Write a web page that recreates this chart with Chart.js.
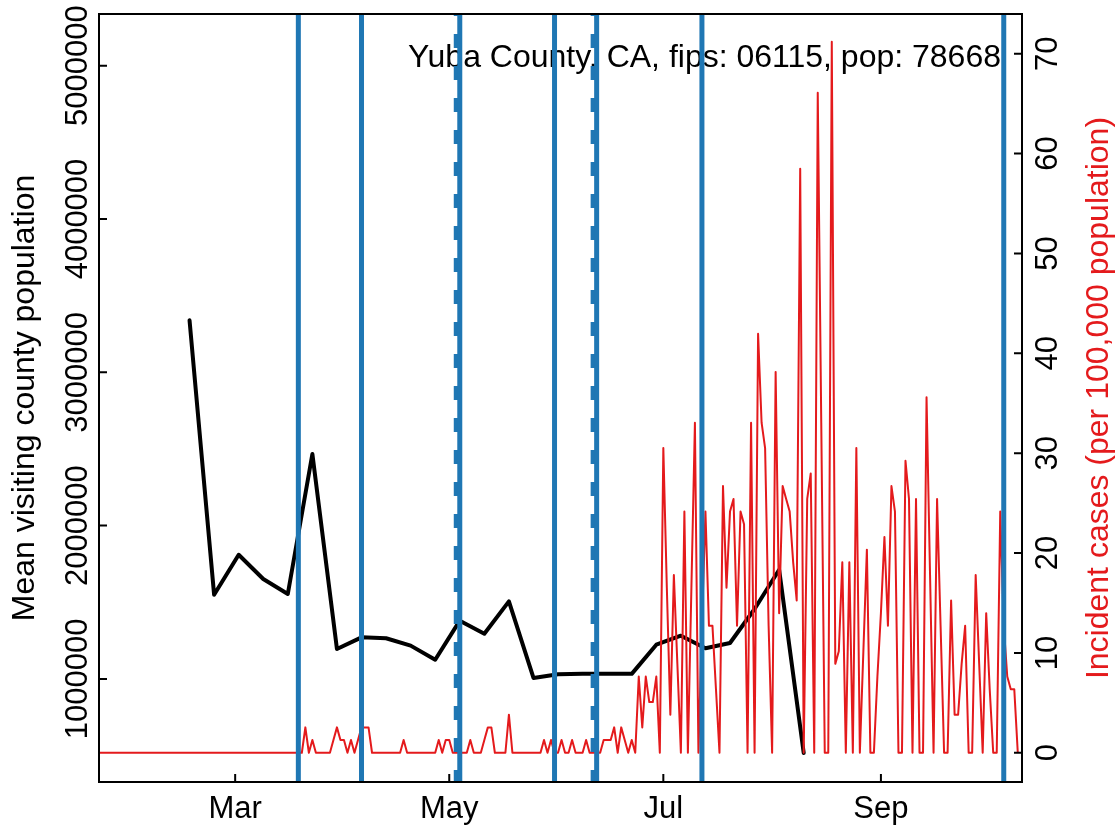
<!DOCTYPE html>
<html>
<head>
<meta charset="utf-8">
<title>Yuba County mobility and cases</title>
<script src="https://cdn.jsdelivr.net/npm/chart.js@4.4.1/dist/chart.umd.min.js"></script>
<style>
  html, body { margin: 0; padding: 0; background: #fff; }
  #wrap { width: 1119px; height: 826px; }
</style>
</head>
<body>
<div id="wrap"><canvas id="chart" width="1119" height="826"></canvas></div>
<script>
// daily incident cases per 100,000, one value per day from caseStart
const caseStart = "2020-01-22";
const cases = [
  0, 0, 0, 0, 0, 0, 0, 0, 0, 0,
  0, 0, 0, 0, 0, 0, 0, 0, 0, 0,
  0, 0, 0, 0, 0, 0, 0, 0, 0, 0,
  0, 0, 0, 0, 0, 0, 0, 0, 0, 0,
  0, 0, 0, 0, 0, 0, 0, 0, 0, 0,
  0, 0, 0, 0, 0, 0, 0, 0, 0, 2.54,
  0, 1.27, 0, 0, 0, 0, 0, 1.27, 2.54, 1.27,
  1.27, 0, 1.27, 0, 1.27, 2.54, 2.54, 2.54, 0, 0,
  0, 0, 0, 0, 0, 0, 0, 1.27, 0, 0,
  0, 0, 0, 0, 0, 0, 0, 1.27, 0, 1.27,
  1.27, 0, 0, 0, 0, 0, 1.27, 0, 0, 0,
  1.27, 2.54, 2.54, 0, 0, 0, 0, 3.81, 0, 0,
  0, 0, 0, 0, 0, 0, 0, 1.27, 0, 1.27,
  0, 0, 1.27, 0, 0, 1.27, 0, 0, 0, 1.27,
  0, 0, 0, 0, 1.27, 1.27, 1.27, 2.54, 0, 2.54,
  1.27, 0, 1.27, 0, 7.63, 2.54, 7.63, 5.08, 5.08, 7.63,
  0, 30.51, 16.53, 3.81, 17.8, 8.9, 0, 24.15, 0, 16.53,
  33.05, 0, 12.71, 24.15, 12.71, 12.71, 6.36, 0, 26.7, 16.53,
  24.15, 25.42, 12.71, 24.15, 22.88, 0, 33.05, 0, 41.95, 33.05,
  30.51, 12.71, 0, 38.14, 13.98, 26.7, 25.42, 24.15, 19.07, 15.25,
  58.48, 0, 25.42, 27.97, 0, 66.1, 33.05, 0, 0, 71.19,
  8.9, 10.17, 19.07, 0, 19.07, 0, 30.51, 0, 10.17, 20.34,
  0, 0, 7.63, 13.98, 21.61, 12.71, 26.7, 24.15, 0, 0,
  29.24, 25.42, 0, 25.42, 0, 0, 35.59, 17.8, 0, 25.42,
  12.71, 0, 0, 15.25, 3.81, 3.81, 8.9, 12.71, 0, 0,
  17.8, 8.9, 0, 13.98, 6.36, 0, 0, 24.15, 12.71, 7.63,
  6.36, 6.36, 0
];

// weekly mean visiting county population, from visitStart every 7 days
const visitStart = "2020-02-17";
const visitStep = 7;
const visitors = [
  3339000, 1549000, 1810000, 1652000, 1554000, 2467000, 1195000, 1271000,
  1265000, 1217000, 1125000, 1380000, 1295000, 1506000, 1006000, 1030000,
  1033000, 1033000, 1033000, 1223000, 1282000, 1200000, 1234000, 1456000,
  1712000, 517000
];

// policy dates (vertical lines)
const solidDates = ["2020-03-19", "2020-04-06", "2020-05-04", "2020-05-31", "2020-06-12", "2020-07-12", "2020-10-06"];
const dashedDates = ["2020-05-03", "2020-06-11"];

// axes
const monthLabels = ["Mar", "May", "Jul", "Sep"];
const monthDates = ["2020-03-01", "2020-05-01", "2020-07-01", "2020-09-01"];
const leftTicks = [1000000, 2000000, 3000000, 4000000, 5000000];
const rightTicks = [0, 10, 20, 30, 40, 50, 60, 70];

const titleText = "Yuba County, CA, fips: 06115, pop: 78668";
const leftTitle = "Mean visiting county population";
const rightTitle = "Incident cases (per 100,000 population)";

const BLUE = "#1f77b4";
const RED = "#e41a1c";
const TICK_FONT = '31px "Liberation Sans", Arial, sans-serif';
const TITLE_FONT = '32px "Liberation Sans", Arial, sans-serif';

// days since 1 March 2020
function dayOf(s) {
  const p = s.split("-").map(Number);
  return (Date.UTC(p[0], p[1] - 1, p[2]) - Date.UTC(2020, 2, 1)) / 864e5;
}

const caseDay0 = dayOf(caseStart);
const casePoints = cases.map((v, i) => ({ x: caseDay0 + i, y: v }));
const visitDay0 = dayOf(visitStart);
const visitPoints = visitors.map((v, i) => ({ x: visitDay0 + i * visitStep, y: v }));

function rotatedText(ctx, text, x, y, color, font) {
  ctx.save();
  ctx.translate(x, y);
  ctx.rotate(-Math.PI / 2);
  ctx.font = font;
  ctx.fillStyle = color;
  ctx.textAlign = "center";
  ctx.textBaseline = "alphabetic";
  ctx.fillText(text, 0, 0);
  ctx.restore();
}

const rStyle = {
  id: "rStyle",
  beforeDatasetsDraw(chart) {
    const ctx = chart.ctx;
    ctx.save();
    ctx.font = TITLE_FONT;
    ctx.fillStyle = "#000";
    ctx.textAlign = "right";
    ctx.textBaseline = "alphabetic";
    ctx.fillText(titleText, 1001, 67);
    ctx.restore();
  },
  afterDatasetsDraw(chart) {
    const ctx = chart.ctx;
    const a = chart.chartArea;
    const sx = chart.scales.x, yL = chart.scales.yL, yR = chart.scales.yR;

    // vertical policy lines
    ctx.save();
    ctx.beginPath();
    ctx.rect(a.left, a.top, a.right - a.left, a.bottom - a.top);
    ctx.clip();
    ctx.strokeStyle = BLUE;
    ctx.lineWidth = 5;
    ctx.setLineDash([14, 18]);
    ctx.lineDashOffset = 12;
    dashedDates.forEach(d => {
      const px = sx.getPixelForValue(dayOf(d));
      ctx.beginPath();
      ctx.moveTo(px, a.top);
      ctx.lineTo(px, a.bottom);
      ctx.stroke();
    });
    ctx.setLineDash([]);
    solidDates.forEach(d => {
      const px = sx.getPixelForValue(dayOf(d));
      ctx.beginPath();
      ctx.moveTo(px, a.top);
      ctx.lineTo(px, a.bottom);
      ctx.stroke();
    });
    ctx.restore();

    // box and inward ticks
    ctx.save();
    ctx.strokeStyle = "#000";
    ctx.lineWidth = 2;
    ctx.strokeRect(a.left, a.top, a.right - a.left, a.bottom - a.top);
    ctx.beginPath();
    monthDates.forEach(d => {
      const px = sx.getPixelForValue(dayOf(d));
      ctx.moveTo(px, a.bottom);
      ctx.lineTo(px, a.bottom - 8);
    });
    leftTicks.forEach(v => {
      const py = yL.getPixelForValue(v);
      ctx.moveTo(a.left, py);
      ctx.lineTo(a.left + 8, py);
    });
    rightTicks.forEach(v => {
      const py = yR.getPixelForValue(v);
      ctx.moveTo(a.right, py);
      ctx.lineTo(a.right - 8, py);
    });
    ctx.stroke();

    // labels
    ctx.font = TICK_FONT;
    ctx.fillStyle = "#000";
    ctx.textAlign = "center";
    ctx.textBaseline = "alphabetic";
    monthDates.forEach((d, i) => {
      ctx.fillText(monthLabels[i], sx.getPixelForValue(dayOf(d)), 818);
    });
    leftTicks.forEach(v => rotatedText(ctx, String(v), 87, yL.getPixelForValue(v), "#000", TICK_FONT));
    rightTicks.forEach(v => rotatedText(ctx, String(v), 1057, yR.getPixelForValue(v), "#000", TICK_FONT));
    rotatedText(ctx, leftTitle, 34, (a.top + a.bottom) / 2, "#000", TITLE_FONT);
    rotatedText(ctx, rightTitle, 1108, (a.top + a.bottom) / 2, RED, TITLE_FONT);
    ctx.restore();
  }
};

new Chart(document.getElementById("chart"), {
  type: "line",
  data: {
    datasets: [
      {
        label: "Incident cases",
        data: casePoints,
        yAxisID: "yR",
        borderColor: RED,
        borderWidth: 2,
        pointRadius: 0,
        tension: 0,
        borderJoinStyle: "round",
        clip: 0,
        order: 0
      },
      {
        label: "Mean visiting county population",
        data: visitPoints,
        yAxisID: "yL",
        borderColor: "#000",
        borderWidth: 4,
        pointRadius: 0,
        tension: 0,
        borderJoinStyle: "round",
        borderCapStyle: "round",
        clip: 0,
        order: 1
      }
    ]
  },
  options: {
    responsive: false,
    animation: false,
    devicePixelRatio: 1,
    events: [],
    layout: { padding: { left: 99, right: 97, top: 14, bottom: 44 } },
    plugins: { legend: { display: false }, tooltip: { enabled: false } },
    scales: {
      x: { type: "linear", min: -38.8, max: 224.2, display: false },
      yL: { type: "linear", position: "left", min: 327500, max: 5337250, display: false },
      yR: { type: "linear", position: "right", min: -2.93, max: 73.98, display: false }
    }
  },
  plugins: [rStyle]
});
</script>
</body>
</html>
